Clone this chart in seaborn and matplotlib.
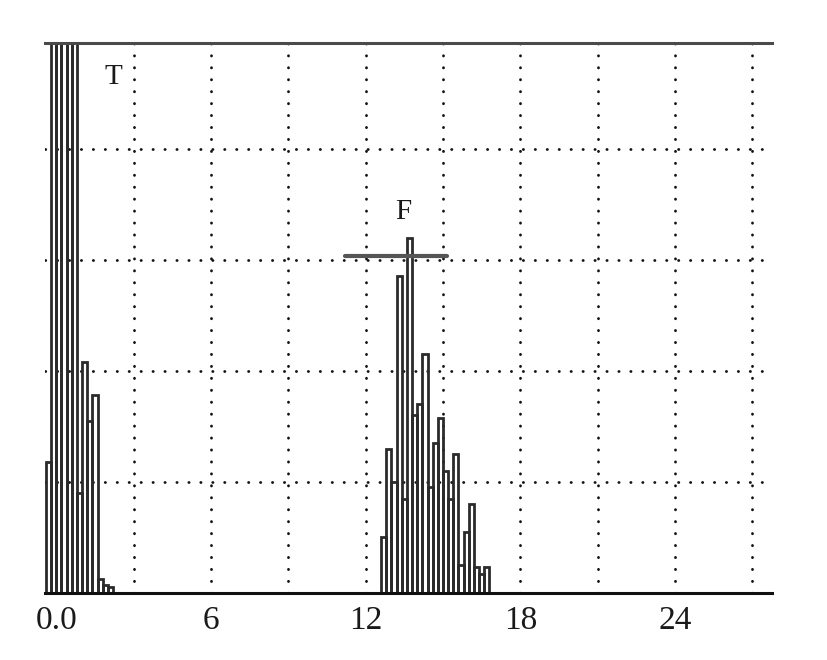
import numpy as np
import pandas as pd
import matplotlib
matplotlib.use("Agg")
import matplotlib.pyplot as plt
import seaborn as sns

# bin centres (same units as the x axis) and bin heights
t_centers = [-0.3, -0.1, 0.1, 0.3, 0.5, 0.7, 0.9, 1.1, 1.3, 1.5, 1.7, 1.9, 2.1]
t_heights = [23.6, 130, 130, 130, 130, 130, 18, 41.6, 31, 35.6, 2.5, 1.5, 1.0]

f_centers = [12.7, 12.9, 13.1, 13.3, 13.5, 13.7, 13.9, 14.1, 14.3, 14.5, 14.7,
             14.9, 15.1, 15.3, 15.5, 15.7, 15.9, 16.1, 16.3, 16.5, 16.7]
f_heights = [10, 26, 20, 57, 17, 64, 32, 34, 43, 19, 27,
             31.5, 22, 17, 25, 5, 11, 16, 4.7, 3.5, 4.7]

# horizontal marker above the F peak
f_bar_x = [11.2, 15.15]
f_bar_y = [60.7, 60.7]

peak_labels = ["T", "F"]
label_x = [2.2, 13.45]
label_y = [93, 68.6]

x_ticks = [0, 6, 12, 18, 24]
x_ticklabels = ["0.0", "6", "12", "18", "24"]

sns.set_style("white")
plt.rcParams["font.family"] = ["Liberation Serif", "DejaVu Serif"]

fig = plt.figure(figsize=(8.28, 6.6), dpi=100)
ax = fig.add_axes([0.054, 0.1015, 0.878, 0.833])

line_col = "#2b2b2b"
sns.histplot(x=t_centers, weights=t_heights, binwidth=0.2, binrange=(-0.4, 2.2),
             element="bars", fill=False, color=line_col, linewidth=2.0, ax=ax)
sns.histplot(x=f_centers, weights=f_heights, binwidth=0.2, binrange=(12.6, 16.8),
             element="bars", fill=False, color=line_col, linewidth=2.0, ax=ax)

sns.lineplot(x=f_bar_x, y=f_bar_y, color="#555555", linewidth=3.0, ax=ax)

for lab, lx, ly in zip(peak_labels, label_x, label_y):
    ax.text(lx, ly, lab, fontsize=21, ha="center", va="center", color="#1a1a1a")

ax.set_xlim(-0.45, 27.75)
ax.set_ylim(0, 99)

ax.set_xticks(x_ticks)
ax.set_xticklabels(x_ticklabels)
ax.set_xticks(np.arange(3, 28, 6), minor=True)
ax.set_yticks([20, 40, 60, 80])
ax.tick_params(axis="x", which="both", length=0, labelsize=24, pad=9, labelcolor="#1a1a1a")
ax.tick_params(axis="y", length=0, labelleft=False)

ax.grid(True, which="both", axis="x", color="#111111", linewidth=2.0,
        linestyle=(0, (0.1, 4.2)), dash_capstyle="round")
ax.grid(True, which="major", axis="y", color="#111111", linewidth=2.0,
        linestyle=(0, (0.1, 4.2)), dash_capstyle="round")
ax.set_axisbelow(True)

ax.set_xlabel("")
ax.set_ylabel("")
ax.spines["left"].set_visible(False)
ax.spines["right"].set_visible(False)
ax.spines["top"].set_color("#4a4a4a")
ax.spines["top"].set_linewidth(2.2)
ax.spines["bottom"].set_color("#111111")
ax.spines["bottom"].set_linewidth(2.2)

fig.savefig("out.png", dpi=100)
